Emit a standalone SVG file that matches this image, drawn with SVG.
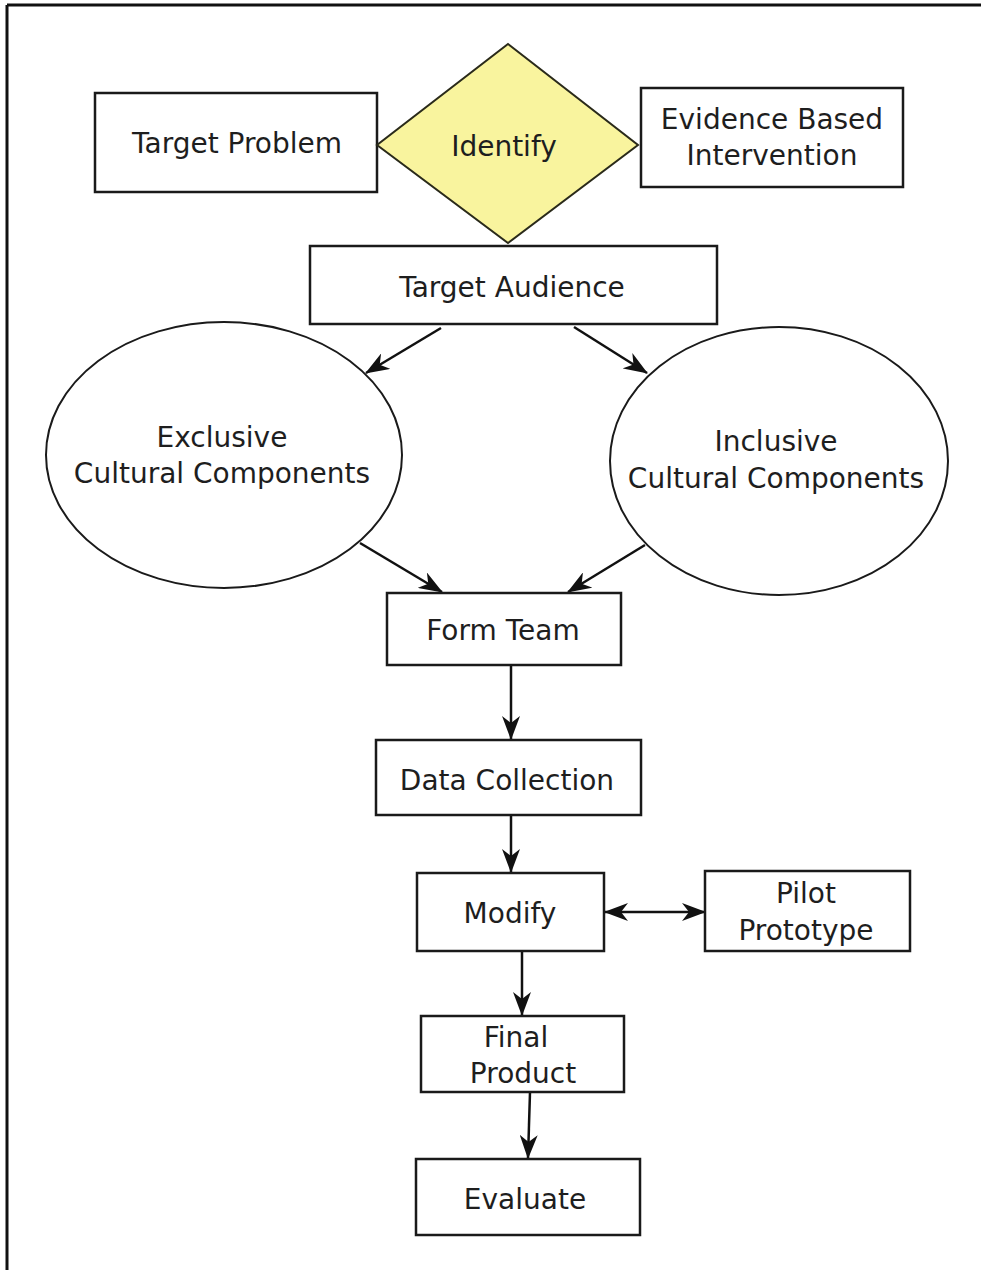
<svg xmlns="http://www.w3.org/2000/svg" width="981" height="1270" viewBox="0 0 981 1270">
  <defs>
    <style>
      .box { fill: #ffffff; stroke: #1a1a1a; stroke-width: 2.5; }
      .oval { fill: #ffffff; stroke: #1a1a1a; stroke-width: 2; }
      .decision { fill: #f9f49e; stroke: #2a2a1a; stroke-width: 2; }
      .label { font-family: "DejaVu Sans", "Liberation Sans", sans-serif; font-size: 28px; fill: #1e1e1e; text-anchor: middle; }
      .edge { fill: none; stroke: #111111; stroke-width: 2.5; }
    </style>
    <marker id="head" viewBox="0 0 24 18" refX="23" refY="9" markerWidth="24" markerHeight="18" markerUnits="userSpaceOnUse" orient="auto-start-reverse">
      <path d="M0,0 L24,9 L0,18 L7,9 z" fill="#111111"/>
    </marker>
  </defs>

  <rect width="981" height="1270" fill="#ffffff"/>

  <!-- frame edges -->
  <g id="frame" fill="none" stroke="#111111" stroke-width="3">
    <line x1="7" y1="5" x2="981" y2="5"/>
    <line x1="7" y1="5" x2="7" y2="1270"/>
  </g>

  <!-- connectors -->
  <g id="connectors">
    <line class="edge" x1="441" y1="328" x2="366" y2="373" marker-end="url(#head)"/>
    <line class="edge" x1="574" y1="327" x2="647" y2="373" marker-end="url(#head)"/>
    <line class="edge" x1="360" y1="543" x2="442" y2="592" marker-end="url(#head)"/>
    <line class="edge" x1="645" y1="545" x2="568" y2="592" marker-end="url(#head)"/>
    <line class="edge" x1="511" y1="665" x2="511" y2="739" marker-end="url(#head)"/>
    <line class="edge" x1="511" y1="815" x2="511" y2="872" marker-end="url(#head)"/>
    <line class="edge" x1="605" y1="912" x2="705" y2="912" marker-start="url(#head)" marker-end="url(#head)"/>
    <line class="edge" x1="522" y1="951" x2="522" y2="1015" marker-end="url(#head)"/>
    <line class="edge" x1="530" y1="1092" x2="528" y2="1158" marker-end="url(#head)"/>
  </g>

  <g id="target-problem">
    <rect class="box" x="95" y="93" width="282" height="99"/>
    <text class="label" x="237" y="153">Target Problem</text>
  </g>

  <g id="identify">
    <polygon class="decision" points="508,44 638,145 508,243 377,145"/>
    <text class="label" x="504" y="156">Identify</text>
  </g>

  <g id="evidence-based-intervention">
    <rect class="box" x="641" y="88" width="262" height="99"/>
    <text class="label" x="772" y="129">Evidence Based</text>
    <text class="label" x="772" y="165">Intervention</text>
  </g>

  <g id="target-audience">
    <rect class="box" x="310" y="246" width="407" height="78"/>
    <text class="label" x="512" y="297">Target Audience</text>
  </g>

  <g id="exclusive-components">
    <ellipse class="oval" cx="224" cy="455" rx="178" ry="133"/>
    <text class="label" x="222" y="447">Exclusive</text>
    <text class="label" x="222" y="483">Cultural Components</text>
  </g>

  <g id="inclusive-components">
    <ellipse class="oval" cx="779" cy="461" rx="169" ry="134"/>
    <text class="label" x="776" y="451">Inclusive</text>
    <text class="label" x="776" y="488">Cultural Components</text>
  </g>

  <g id="form-team">
    <rect class="box" x="387" y="593" width="234" height="72"/>
    <text class="label" x="503" y="640">Form Team</text>
  </g>

  <g id="data-collection">
    <rect class="box" x="376" y="740" width="265" height="75"/>
    <text class="label" x="507" y="790">Data Collection</text>
  </g>

  <g id="modify">
    <rect class="box" x="417" y="873" width="187" height="78"/>
    <text class="label" x="510" y="923">Modify</text>
  </g>

  <g id="pilot-prototype">
    <rect class="box" x="705" y="871" width="205" height="80"/>
    <text class="label" x="806" y="903">Pilot</text>
    <text class="label" x="806" y="940">Prototype</text>
  </g>

  <g id="final-product">
    <rect class="box" x="421" y="1016" width="203" height="76"/>
    <text class="label" x="516" y="1047">Final</text>
    <text class="label" x="523" y="1083">Product</text>
  </g>

  <g id="evaluate">
    <rect class="box" x="416" y="1159" width="224" height="76"/>
    <text class="label" x="525" y="1209">Evaluate</text>
  </g>
</svg>
